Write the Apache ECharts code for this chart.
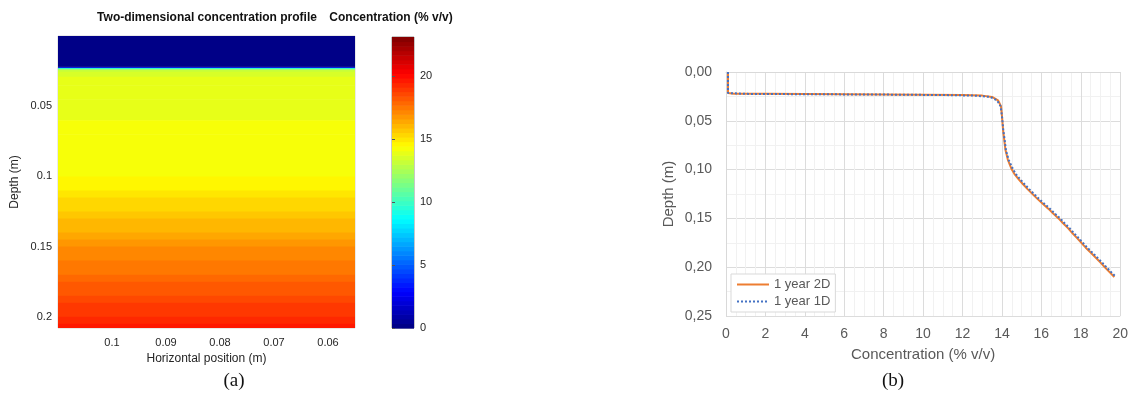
<!DOCTYPE html>
<html>
<head>
<meta charset="utf-8">
<title>Concentration profile</title>
<script src="https://cdn.jsdelivr.net/npm/echarts@6/dist/echarts.min.js"></script>
<style>
  html, body { margin: 0; padding: 0; background: #fff; }
  #chart { width: 1131px; height: 399px; }
</style>
</head>
<body>
<div id="chart"></div>
<script>
// profile after one year: depth (m) and concentration (% v/v)
const depth = [0, 0.0215, 0.0222, 0.0224, 0.0226, 0.0228, 0.0230, 0.0232, 0.0236, 0.0242, 0.0255, 0.029, 0.035, 0.045,
  0.060, 0.070, 0.080, 0.090, 0.100, 0.105, 0.110, 0.115, 0.120, 0.125, 0.130, 0.135, 0.140, 0.145, 0.150,
  0.155, 0.160, 0.165, 0.170, 0.175, 0.180, 0.185, 0.190, 0.195, 0.200, 0.205, 0.210];
const conc2D = [0.1, 0.1, 0.4, 2, 4, 6, 8, 10, 12, 13, 13.5, 13.8, 13.95, 14.0,
  14.06, 14.12, 14.18, 14.3, 14.5, 14.65, 14.85, 15.07, 15.3, 15.55, 15.8, 16.07, 16.35, 16.6, 16.87,
  17.1, 17.35, 17.57, 17.8, 18.03, 18.25, 18.5, 18.75, 18.99, 19.22, 19.46, 19.7];
const conc1D = [0.1, 0.1, 0.2, 1.0, 2.5, 4.5, 6.5, 8.5, 11, 12.6, 13.4, 13.75, 13.93, 14.0,
  14.07, 14.14, 14.2, 14.34, 14.57, 14.72, 14.93, 15.15, 15.38, 15.63, 15.88, 16.15, 16.43, 16.68, 16.95,
  17.18, 17.43, 17.65, 17.88, 18.11, 18.33, 18.58, 18.83, 19.07, 19.3, 19.54, 19.78];

// 2D domain and axis ticks
const horizontalExtent = [0.055, 0.11];
const depthMax2D = 0.208;
const horizontalTicks = [0.1, 0.09, 0.08, 0.07, 0.06];
const colorMax = 23.1;

// jet colormap, 64 levels
const levels = 64;
function jet(t) {
  const c = v => Math.round(255 * Math.max(0, Math.min(1, v)));
  return 'rgb(' + c(1.5 - Math.abs(4 * t - 3)) + ',' + c(1.5 - Math.abs(4 * t - 2)) + ',' + c(1.5 - Math.abs(4 * t - 1)) + ')';
}
const pieces = [];
const colorbarCells = [];
for (let i = 0; i < levels; i++) {
  const lo = colorMax * i / levels, hi = colorMax * (i + 1) / levels;
  const p = {gte: lo, color: jet((i + 0.5) / levels)};
  if (i < levels - 1) p.lt = hi;
  pieces.push(p);
  colorbarCells.push([lo, hi, (lo + hi) / 2]);
}

const heatRows = [];
for (let i = 0; i < depth.length - 1; i++) {
  heatRows.push([depth[i], depth[i + 1], (conc2D[i] + conc2D[i + 1]) / 2]);
}

const chart = echarts.init(document.getElementById('chart'));
const grey = '#595959';
const fontA = 'Liberation Sans';

chart.setOption({
  animation: false,
  textStyle: {fontFamily: fontA},
  grid: [
    {left: 58, top: 36, width: 297, height: 292, show: true, borderColor: '#d4d4d4', borderWidth: 1},
    {left: 392, top: 37, width: 22, height: 291, show: true, borderColor: '#777', borderWidth: 0.8},
    {left: 726, top: 72, width: 396, height: 244}
  ],
  xAxis: [
    {
      gridIndex: 0, type: 'value', inverse: true, min: horizontalExtent[0], max: horizontalExtent[1],
      axisLine: {show: false}, axisTick: {show: false}, splitLine: {show: false},
      axisLabel: {customValues: horizontalTicks, color: '#262626', fontSize: 11, margin: 9,
        formatter: v => String(+v.toFixed(2))},
      name: 'Horizontal position (m)', nameLocation: 'middle', nameGap: 25,
      nameTextStyle: {color: '#262626', fontSize: 12}
    },
    {gridIndex: 1, type: 'value', min: 0, max: 1, show: false},
    {
      gridIndex: 2, type: 'value', min: 0, max: 20, interval: 2,
      axisLine: {show: true, lineStyle: {color: '#d9d9d9'}}, axisTick: {show: false},
      axisLabel: {color: grey, fontSize: 14, margin: 11},
      splitLine: {lineStyle: {color: '#dcdcdc'}},
      minorTick: {show: false, splitNumber: 4},
      minorSplitLine: {show: true, lineStyle: {color: '#f1f1f1'}},
      name: 'Concentration (% v/v)', nameLocation: 'middle', nameGap: 31,
      nameTextStyle: {color: grey, fontSize: 15}
    }
  ],
  yAxis: [
    {
      gridIndex: 0, type: 'value', inverse: true, min: 0, max: depthMax2D, interval: 0.05,
      axisLine: {show: false}, axisTick: {show: false}, splitLine: {show: false},
      axisLabel: {color: '#262626', fontSize: 11, margin: 6, showMaxLabel: false,
        formatter: v => v === 0 ? '' : String(+v.toFixed(2))},
      name: 'Depth (m)', nameLocation: 'middle', nameGap: 37,
      nameTextStyle: {color: '#262626', fontSize: 12}
    },
    {
      gridIndex: 1, type: 'value', position: 'right', min: 0, max: colorMax, interval: 5, z: 5,
      axisLine: {show: false}, splitLine: {show: false},
      axisTick: {show: true, inside: false, length: 3, lineStyle: {color: '#555'}},
      axisLabel: {color: '#262626', fontSize: 11, margin: 6, showMaxLabel: false}
    },
    {
      gridIndex: 2, type: 'value', inverse: true, min: 0, max: 0.25, interval: 0.05,
      axisLine: {show: true, lineStyle: {color: '#d9d9d9'}}, axisTick: {show: false},
      axisLabel: {color: grey, fontSize: 14, margin: 14, formatter: v => v.toFixed(2).replace('.', ',')},
      splitLine: {lineStyle: {color: '#dcdcdc'}},
      minorTick: {show: false, splitNumber: 2},
      minorSplitLine: {show: true, lineStyle: {color: '#f1f1f1'}},
      name: 'Depth (m)', nameLocation: 'middle', nameGap: 50,
      nameTextStyle: {color: grey, fontSize: 15}
    }
  ],
  visualMap: {
    type: 'piecewise', show: false, dimension: 2, seriesIndex: [0, 1], pieces: pieces
  },
  legend: {
    left: 731, top: 274, orient: 'vertical',
    data: ['1 year 2D', '1 year 1D'],
    backgroundColor: '#fff', borderColor: '#d9d9d9', borderWidth: 1, borderRadius: 0,
    padding: [4, 5, 4, 5], itemGap: 4, itemWidth: 32, itemHeight: 13,
    itemStyle: {opacity: 0},
    textStyle: {color: grey, fontSize: 13}
  },
  graphic: [
    {type: 'text', x: 207, y: 18, style: {text: 'Two-dimensional concentration profile', font: 'bold 12px "Liberation Sans"', fill: '#111', align: 'center', verticalAlign: 'middle'}},
    {type: 'text', x: 391, y: 18, style: {text: 'Concentration (% v/v)', font: 'bold 12px "Liberation Sans"', fill: '#111', align: 'center', verticalAlign: 'middle'}},
    {type: 'text', x: 234, y: 381, style: {text: '(a)', font: '19px "Liberation Serif"', fill: '#111', align: 'center', verticalAlign: 'middle'}},
    {type: 'text', x: 893, y: 381, style: {text: '(b)', font: '19px "Liberation Serif"', fill: '#111', align: 'center', verticalAlign: 'middle'}}
  ],
  series: [
    {
      type: 'custom', name: 'profile 2D', xAxisIndex: 0, yAxisIndex: 0, clip: true,
      dimensions: ['top', 'bottom', 'conc'], encode: {y: [0, 1], tooltip: 2},
      data: heatRows,
      renderItem: (params, api) => {
        const a = api.coord([horizontalExtent[1], api.value(0)]);
        const b = api.coord([horizontalExtent[0], api.value(1)]);
        return {
          type: 'rect',
          shape: {x: Math.min(a[0], b[0]), y: a[1], width: Math.abs(b[0] - a[0]), height: b[1] - a[1] + 0.6},
          style: {fill: api.visual('color')}
        };
      }
    },
    {
      type: 'custom', name: 'colorbar', xAxisIndex: 1, yAxisIndex: 1,
      dimensions: ['lo', 'hi', 'mid'], encode: {y: [0, 1]},
      data: colorbarCells,
      renderItem: (params, api) => {
        const a = api.coord([0, api.value(1)]);
        const b = api.coord([1, api.value(0)]);
        return {
          type: 'rect',
          shape: {x: a[0], y: a[1], width: b[0] - a[0], height: b[1] - a[1] + 0.6},
          style: {fill: api.visual('color')}
        };
      }
    },
    {
      type: 'line', name: '1 year 2D', xAxisIndex: 2, yAxisIndex: 2,
      symbol: 'none', color: '#ED7D31',
      lineStyle: {width: 2, color: '#ED7D31'},
      data: depth.map((d, i) => [conc2D[i], d])
    },
    {
      type: 'line', name: '1 year 1D', xAxisIndex: 2, yAxisIndex: 2,
      symbol: 'none', color: '#4472C4',
      lineStyle: {width: 2, color: '#4472C4', type: 'dotted'},
      data: depth.map((d, i) => [conc1D[i], d])
    }
  ]
});
</script>
</body>
</html>
